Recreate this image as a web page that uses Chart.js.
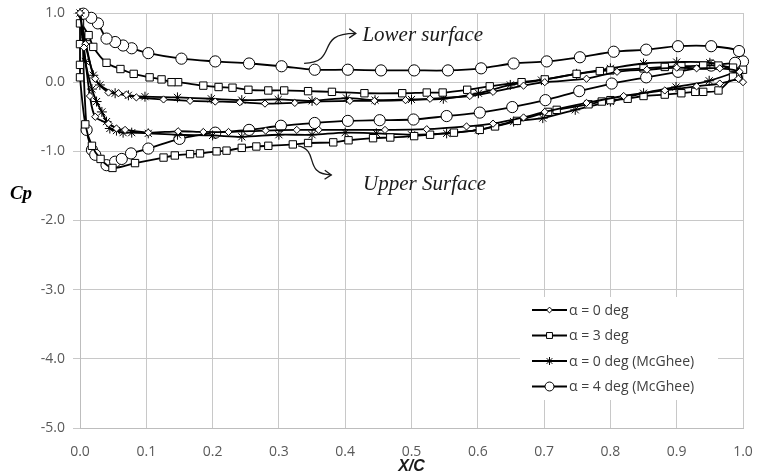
<!DOCTYPE html>
<html><head><meta charset="utf-8">
<script src="https://cdn.jsdelivr.net/npm/chart.js@4/dist/chart.umd.min.js"></script>
<style>html,body{margin:0;padding:0;background:#fff}#wrap{width:758px;height:475px;position:relative}</style>
</head><body><div id="wrap"><canvas id="c" width="758" height="475"></canvas></div>
<script>
// ---- data (x/c and Cp; each series is one closed loop: TE -> LE -> TE)
const seriesLabels = ['α = 0 deg', 'α = 3 deg', 'α = 0 deg (McGhee)', 'α = 4 deg (McGhee)'];

const alpha0X  = [1.0, 0.995, 0.965, 0.93, 0.9, 0.855, 0.81, 0.764, 0.701, 0.669, 0.623, 0.588, 0.528, 0.491, 0.444, 0.407, 0.357, 0.324, 0.279, 0.241, 0.204, 0.166, 0.126, 0.085, 0.07, 0.058, 0.043, 0.023, 0.008, 0.0,
                  0.006, 0.015, 0.023, 0.043, 0.055, 0.068, 0.103, 0.148, 0.186, 0.224, 0.28, 0.327, 0.36, 0.46, 0.523, 0.583, 0.623, 0.669, 0.701, 0.764, 0.82, 0.882, 0.93, 0.965, 0.993];
const alpha0Cp = [0.0, 0.15, 0.2, 0.2, 0.21, 0.18, 0.15, 0.05, 0.0, -0.05, -0.14, -0.2, -0.24, -0.26, -0.27, -0.27, -0.28, -0.3, -0.31, -0.29, -0.28, -0.27, -0.25, -0.22, -0.18, -0.16, -0.15, 0.05, 0.55, 1.0,
                  0.5, -0.2, -0.5, -0.6, -0.67, -0.69, -0.73, -0.71, -0.72, -0.72, -0.7, -0.69, -0.69, -0.69, -0.68, -0.64, -0.6, -0.51, -0.43, -0.3, -0.2, -0.12, -0.06, -0.02, 0.05];

const alpha3X  = [1.0, 0.985, 0.963, 0.94, 0.907, 0.882, 0.85, 0.8, 0.784, 0.749, 0.701, 0.666, 0.618, 0.584, 0.547, 0.523, 0.486, 0.429, 0.38, 0.344, 0.308, 0.284, 0.254, 0.23, 0.209, 0.186, 0.148, 0.138, 0.123, 0.105, 0.081, 0.061, 0.04, 0.02, 0.013, 0.0, 0.0, 0.0, 0.0,
                  0.008, 0.018, 0.031, 0.049, 0.083, 0.126, 0.143, 0.166, 0.181, 0.206, 0.221, 0.244, 0.266, 0.284, 0.321, 0.344, 0.382, 0.405, 0.442, 0.468, 0.504, 0.528, 0.564, 0.603, 0.626, 0.659, 0.706, 0.719, 0.767, 0.787, 0.8, 0.826, 0.85, 0.882, 0.907, 0.928, 0.94, 0.963, 0.985];
const alpha3Cp = [0.18, 0.21, 0.24, 0.24, 0.23, 0.22, 0.2, 0.17, 0.16, 0.12, 0.04, 0.0, -0.06, -0.11, -0.15, -0.15, -0.16, -0.16, -0.14, -0.13, -0.12, -0.12, -0.11, -0.08, -0.07, -0.05, 0.0, 0.0, 0.04, 0.07, 0.12, 0.19, 0.28, 0.51, 0.68, 0.85, 0.55, 0.25, 0.07,
                  -0.61, -0.92, -1.11, -1.24, -1.17, -1.09, -1.06, -1.04, -1.03, -1.0, -0.99, -0.95, -0.93, -0.92, -0.9, -0.88, -0.87, -0.84, -0.81, -0.8, -0.78, -0.76, -0.73, -0.69, -0.64, -0.56, -0.43, -0.4, -0.32, -0.28, -0.26, -0.24, -0.2, -0.18, -0.16, -0.14, -0.14, -0.12, 0.08];

const mcghee0X  = [0.99, 0.95, 0.9, 0.85, 0.8, 0.749, 0.696, 0.649, 0.601, 0.548, 0.5, 0.445, 0.402, 0.35, 0.299, 0.244, 0.198, 0.147, 0.098, 0.073, 0.053, 0.03, 0.02, 0.008, 0.0,
                   0.008, 0.018, 0.025, 0.033, 0.04, 0.045, 0.055, 0.065, 0.078, 0.103, 0.147, 0.2, 0.244, 0.3, 0.35, 0.4, 0.447, 0.5, 0.553, 0.601, 0.654, 0.698, 0.747, 0.8, 0.85, 0.899, 0.949, 0.99];
const mcghee0Cp = [0.17, 0.28, 0.29, 0.27, 0.2, 0.12, 0.03, -0.04, -0.16, -0.24, -0.25, -0.26, -0.23, -0.27, -0.25, -0.26, -0.24, -0.22, -0.21, -0.19, -0.16, -0.04, 0.1, 0.6, 1.0,
                   0.3, -0.1, -0.28, -0.43, -0.57, -0.67, -0.7, -0.73, -0.73, -0.74, -0.76, -0.77, -0.79, -0.76, -0.76, -0.73, -0.74, -0.76, -0.74, -0.69, -0.57, -0.52, -0.4, -0.28, -0.16, -0.07, 0.02, 0.15];

const mcghee4X  = [1.0, 0.994, 0.952, 0.902, 0.854, 0.805, 0.754, 0.704, 0.654, 0.605, 0.555, 0.504, 0.454, 0.404, 0.354, 0.304, 0.255, 0.204, 0.153, 0.103, 0.078, 0.065, 0.053, 0.04, 0.027, 0.017, 0.005,
                   0.01, 0.018, 0.023, 0.04, 0.053, 0.063, 0.077, 0.103, 0.15, 0.204, 0.255, 0.303, 0.354, 0.404, 0.452, 0.503, 0.553, 0.603, 0.652, 0.702, 0.753, 0.802, 0.854, 0.902, 0.952, 0.988];
const mcghee4Cp = [0.3, 0.45, 0.52, 0.52, 0.47, 0.44, 0.36, 0.3, 0.27, 0.2, 0.17, 0.17, 0.17, 0.18, 0.18, 0.23, 0.27, 0.3, 0.34, 0.42, 0.49, 0.53, 0.58, 0.63, 0.85, 0.93, 0.99,
                   -0.69, -0.98, -1.05, -1.2, -1.15, -1.11, -1.03, -0.96, -0.82, -0.73, -0.69, -0.63, -0.59, -0.56, -0.55, -0.54, -0.49, -0.44, -0.36, -0.26, -0.13, -0.02, 0.07, 0.15, 0.24, 0.28];

const xTicks = [0.0, 0.1, 0.2, 0.3, 0.4, 0.5, 0.6, 0.7, 0.8, 0.9, 1.0];
const yTicks = [1.0, 0.0, -1.0, -2.0, -3.0, -4.0, -5.0];
const xTitle = 'X/C';
const yTitle = 'Cp';
const annotationTexts = ['Lower surface', 'Upper Surface'];

// ---- styling / layout (kept separate from the data)
const seriesX  = [alpha0X, alpha3X, mcghee0X, mcghee4X];
const seriesCp = [alpha0Cp, alpha3Cp, mcghee0Cp, mcghee4Cp];
const markerStyles = ['rectRot', 'rect', 'star', 'circle'];
const markerRadius = [3.6, 5.2, 5, 5.6];

// annotation geometry expressed in data units (x/c, Cp)
const annotationAnchors = [[0.426, 0.676], [0.427, -1.48]];
const arrowCurves = [
  [[0.338, 0.273], [0.392, 0.29], [0.352, 0.71], [0.416, 0.705]],
  [[0.329, -0.921], [0.362, -0.98], [0.336, -1.33], [0.379, -1.34]]
];

const datasets = seriesX.map((xs, i) => ({
  label: seriesLabels[i],
  data: xs.map((x, k) => ({x: x, y: seriesCp[i][k]})),
  showLine: true,
  borderColor: '#000',
  borderWidth: 1.8,
  backgroundColor: '#fff',
  pointStyle: markerStyles[i],
  pointRadius: markerRadius[i],
  pointBorderColor: '#000',
  pointBackgroundColor: '#fff',
  pointBorderWidth: 1,
  tension: 0.3,
  clip: false
}));

const overlayPlugin = {
  id: 'overlay',
  afterDatasetsDraw(chart) {
    const {ctx} = chart;
    const sx = chart.scales.x, sy = chart.scales.y;
    const P = p => [sx.getPixelForValue(p[0]), sy.getPixelForValue(p[1])];
    ctx.save();
    ctx.strokeStyle = '#1a1a1a';
    ctx.lineWidth = 1.3;
    arrowCurves.forEach(c => {
      const [p0, p1, p2, p3] = c.map(P);
      ctx.beginPath();
      ctx.moveTo(p0[0], p0[1]);
      ctx.bezierCurveTo(p1[0], p1[1], p2[0], p2[1], p3[0], p3[1]);
      ctx.stroke();
      const ang = Math.atan2(p3[1] - p2[1], p3[0] - p2[0]);
      const L = 8, w = 0.6;
      ctx.beginPath();
      ctx.moveTo(p3[0] - L * Math.cos(ang - w), p3[1] - L * Math.sin(ang - w));
      ctx.lineTo(p3[0], p3[1]);
      ctx.lineTo(p3[0] - L * Math.cos(ang + w), p3[1] - L * Math.sin(ang + w));
      ctx.stroke();
    });
    ctx.fillStyle = '#1a1a1a';
    ctx.font = 'italic 21px "Liberation Serif", "DejaVu Serif", serif';
    ctx.textBaseline = 'middle';
    ctx.textAlign = 'left';
    annotationTexts.forEach((t, i) => {
      const p = P(annotationAnchors[i]);
      ctx.fillText(t, p[0], p[1]);
    });
    ctx.restore();
  },
  afterDraw(chart) {
    const {ctx} = chart;
    ctx.save();
    // y-axis title, horizontal
    ctx.fillStyle = '#000';
    ctx.font = 'italic bold 19px "Liberation Serif", serif';
    ctx.textAlign = 'center';
    ctx.textBaseline = 'middle';
    ctx.fillText(yTitle, 21, 194);
    // legend box
    const left = 520, top = 297, w = 198, h = 103, row = 25.5, y0 = 310;
    ctx.fillStyle = '#fff';
    ctx.fillRect(left, top, w, h);
    chart.data.datasets.forEach((ds, i) => {
      const yy = y0 + i * row;
      ctx.strokeStyle = '#000';
      ctx.lineWidth = 2;
      ctx.beginPath();
      ctx.moveTo(532, yy);
      ctx.lineTo(567, yy);
      ctx.stroke();
      ctx.fillStyle = '#fff';
      ctx.lineWidth = 1;
      Chart.helpers.drawPoint(ctx, {pointStyle: ds.pointStyle, radius: ds.pointRadius * 0.8, borderWidth: 1, rotation: 0}, 549.5, yy);
      ctx.fillStyle = '#404040';
      ctx.font = '14px "Open Sans", sans-serif';
      ctx.textAlign = 'left';
      ctx.fillText(ds.label, 569, yy + 1);
    });
    ctx.restore();
  }
};

new Chart(document.getElementById('c'), {
  type: 'scatter',
  data: {datasets},
  plugins: [overlayPlugin],
  options: {
    responsive: false,
    animation: false,
    devicePixelRatio: 1,
    layout: {padding: {top: 13, right: 15, bottom: 0, left: 0}},
    plugins: {legend: {display: false}, tooltip: {enabled: false}},
    scales: {
      x: {
        type: 'linear', min: 0, max: 1,
        afterBuildTicks: s => { s.ticks = xTicks.map(v => ({value: v})); },
        afterFit: s => { s.height = 47; s.paddingLeft = 0; s.paddingRight = 0; },
        ticks: {callback: v => Number(v).toFixed(1), color: '#595959', font: {family: '"Open Sans", sans-serif', size: 14}, padding: 16, maxRotation: 0},
        grid: {color: '#c8c8c8', lineWidth: 1, drawTicks: false},
        border: {color: '#bdbdbd'},
        title: {display: true, text: xTitle, color: '#1a1a1a', font: {family: '"Liberation Sans", sans-serif', size: 16, style: 'italic', weight: 'bold', lineHeight: 1.0}, padding: {top: 0, bottom: 0}}
      },
      y: {
        type: 'linear', min: -5, max: 1,
        afterBuildTicks: s => { s.ticks = yTicks.map(v => ({value: v})); },
        afterFit: s => { s.width = 80; s.paddingTop = 0; s.paddingBottom = 0; },
        ticks: {callback: v => Number(v).toFixed(1), color: '#595959', font: {family: '"Open Sans", sans-serif', size: 14}, padding: 8},
        grid: {color: '#c8c8c8', lineWidth: 1, tickLength: 7},
        border: {color: '#bdbdbd'}
      }
    }
  }
});
</script>
</body></html>
